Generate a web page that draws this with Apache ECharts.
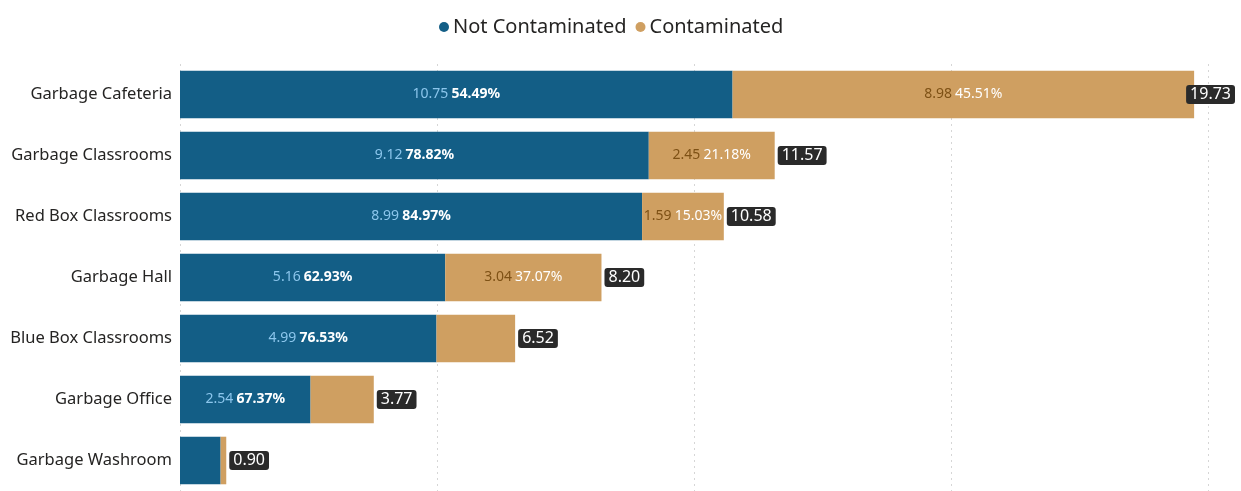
<!DOCTYPE html>
<html>
<head>
<meta charset="utf-8">
<script src="https://cdn.jsdelivr.net/npm/echarts@6/dist/echarts.min.js"></script>
<style>
html,body{margin:0;padding:0;background:#fff;}
#c{width:1241px;height:491px;}
</style>
</head>
<body>
<div id="c"></div>
<script>
const categories = ['Garbage Cafeteria','Garbage Classrooms','Red Box Classrooms','Garbage Hall','Blue Box Classrooms','Garbage Office','Garbage Washroom'];
const notContaminated = [10.75, 9.12, 8.99, 5.16, 4.99, 2.54, 0.79];
const contaminated = [8.98, 2.45, 1.59, 3.04, 1.53, 1.23, 0.11];
const xTicks = [0, 5, 10, 15, 20];

const totals = categories.map((c, i) => +(notContaminated[i] + contaminated[i]).toFixed(2));
const LABEL_MIN = 1.55;
const FONT = '"Noto Sans", "Open Sans", sans-serif';
const CHART_W = 1241;

function segLabel(arr) {
  return function (p) {
    const v = arr[p.dataIndex];
    if (v < LABEL_MIN) return '';
    const pct = (v / totals[p.dataIndex] * 100).toFixed(2) + '%';
    return '{v|' + v.toFixed(2) + '} {p|' + pct + '}';
  };
}

const chart = echarts.init(document.getElementById('c'), null, {renderer: 'canvas'});
chart.setOption({
  animation: false,
  textStyle: {fontFamily: FONT},
  legend: {
    top: 12,
    left: 434,
    data: ['Not Contaminated', 'Contaminated'],
    icon: 'circle',
    itemWidth: 10,
    itemHeight: 10,
    itemGap: 9,
    textStyle: {fontSize: 20, color: '#252423', fontFamily: FONT, padding: [0, 0, 0, -1]}
  },
  grid: {left: 180, right: 33, top: 64, height: 430, containLabel: false},
  xAxis: {
    type: 'value',
    min: xTicks[0],
    max: xTicks[xTicks.length - 1],
    interval: 5,
    axisLabel: {show: false},
    axisLine: {show: false},
    axisTick: {show: false},
    splitLine: {show: true, lineStyle: {type: [2, 4], color: '#d6d6d6', width: 1}}
  },
  yAxis: {
    type: 'category',
    inverse: true,
    data: categories,
    axisLine: {show: false},
    axisTick: {show: false},
    axisLabel: {fontSize: 16.5, color: '#252423', margin: 8, fontFamily: FONT}
  },
  series: [
    {
      name: 'Not Contaminated',
      type: 'bar',
      stack: 'total',
      barCategoryGap: '22%',
      data: notContaminated,
      itemStyle: {color: '#135E86'},
      label: {
        show: true,
        position: 'inside',
        formatter: segLabel(notContaminated),
        rich: {
          v: {color: '#8CC6EC', fontSize: 14, fontFamily: FONT},
          p: {color: '#ffffff', fontSize: 14, fontWeight: 'bold', fontFamily: FONT}
        }
      }
    },
    {
      name: 'Contaminated',
      type: 'bar',
      stack: 'total',
      data: contaminated,
      itemStyle: {color: '#CF9F61'},
      label: {
        show: true,
        position: 'inside',
        formatter: segLabel(contaminated),
        rich: {
          v: {color: '#7E5115', fontSize: 14, fontFamily: FONT},
          p: {color: '#ffffff', fontSize: 14, fontFamily: FONT}
        }
      }
    },
    {
      name: 'Total',
      type: 'scatter',
      symbolSize: 0,
      data: totals.map((t, i) => [t, i]),
      silent: true,
      itemStyle: {opacity: 1},
      label: {
        show: true,
        position: 'right',
        distance: 3,
        opacity: 1,
        formatter: p => p.value[0].toFixed(2),
        color: '#ffffff',
        fontSize: 16,
        fontFamily: FONT,
        backgroundColor: '#2a2a2a',
        borderRadius: 3,
        padding: [2, 4, 1, 4]
      },
      labelLayout: function (params) {
        const r = params.labelRect;
        const over = r.x + r.width - (CHART_W - 6);
        return over > 0 ? {dx: -over} : {};
      }
    }
  ]
});
</script>
</body>
</html>
